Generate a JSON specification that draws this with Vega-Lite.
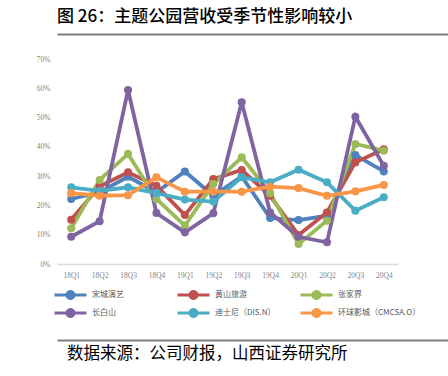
{
  "$schema": "https://vega.github.io/schema/vega-lite/v6.json",
  "padding": {"left": 20, "top": 8, "right": 0, "bottom": 0},
  "background": "white",
  "spacing": 21,
  "resolve": {"legend": {"color": "independent"}, "scale": {"color": "independent", "x": "independent", "y": "independent"}},
  "config": {"font": "Noto Sans CJK SC", "view": {"stroke": null}},
  "vconcat": [
    {
      "width": 428,
      "height": 1,
      "data": {"values": [{"a": 0}]},
      "mark": {"type": "point", "opacity": 0, "size": 0},
      "encoding": {
        "x": {"field": "a", "type": "quantitative", "scale": {"domain": [0, 1]}, "axis": {"domainColor": "#7f7f7f", "domainWidth": 2, "labels": false, "ticks": false, "grid": false, "title": null}}
      },
      "title": {"text": "图 26：主题公园营收受季节性影响较小", "anchor": "start", "font": "Noto Sans CJK SC", "fontSize": 17, "fontWeight": 500, "color": "#000000", "offset": 7}
    },
    {
      "width": 341,
      "height": 205,
      "data": {"values": [
        {"q":"18Q1","s":"宋城演艺","v":0.222},{"q":"18Q2","s":"宋城演艺","v":0.245},{"q":"18Q3","s":"宋城演艺","v":0.298},{"q":"18Q4","s":"宋城演艺","v":0.245},{"q":"19Q1","s":"宋城演艺","v":0.316},{"q":"19Q2","s":"宋城演艺","v":0.233},{"q":"19Q3","s":"宋城演艺","v":0.299},{"q":"19Q4","s":"宋城演艺","v":0.157},{"q":"20Q1","s":"宋城演艺","v":0.150},{"q":"20Q2","s":"宋城演艺","v":0.165},{"q":"20Q3","s":"宋城演艺","v":0.372},{"q":"20Q4","s":"宋城演艺","v":0.316},
        {"q":"18Q1","s":"黄山旅游","v":0.151},{"q":"18Q2","s":"黄山旅游","v":0.265},{"q":"18Q3","s":"黄山旅游","v":0.313},{"q":"18Q4","s":"黄山旅游","v":0.267},{"q":"19Q1","s":"黄山旅游","v":0.167},{"q":"19Q2","s":"黄山旅游","v":0.290},{"q":"19Q3","s":"黄山旅游","v":0.321},{"q":"19Q4","s":"黄山旅游","v":0.233},{"q":"20Q1","s":"黄山旅游","v":0.099},{"q":"20Q2","s":"黄山旅游","v":0.176},{"q":"20Q3","s":"黄山旅游","v":0.347},{"q":"20Q4","s":"黄山旅游","v":0.392},
        {"q":"18Q1","s":"张家界","v":0.122},{"q":"18Q2","s":"张家界","v":0.287},{"q":"18Q3","s":"张家界","v":0.376},{"q":"18Q4","s":"张家界","v":0.222},{"q":"19Q1","s":"张家界","v":0.131},{"q":"19Q2","s":"张家界","v":0.273},{"q":"19Q3","s":"张家界","v":0.364},{"q":"19Q4","s":"张家界","v":0.242},{"q":"20Q1","s":"张家界","v":0.068},{"q":"20Q2","s":"张家界","v":0.148},{"q":"20Q3","s":"张家界","v":0.410},{"q":"20Q4","s":"张家界","v":0.387},
        {"q":"18Q1","s":"长白山","v":0.093},{"q":"18Q2","s":"长白山","v":0.146},{"q":"18Q3","s":"长白山","v":0.594},{"q":"18Q4","s":"长白山","v":0.174},{"q":"19Q1","s":"长白山","v":0.108},{"q":"19Q2","s":"长白山","v":0.173},{"q":"19Q3","s":"长白山","v":0.552},{"q":"19Q4","s":"长白山","v":0.176},{"q":"20Q1","s":"长白山","v":0.093},{"q":"20Q2","s":"长白山","v":0.074},{"q":"20Q3","s":"长白山","v":0.503},{"q":"20Q4","s":"长白山","v":0.335},
        {"q":"18Q1","s":"迪士尼（DIS.N）","v":0.262},{"q":"18Q2","s":"迪士尼（DIS.N）","v":0.250},{"q":"18Q3","s":"迪士尼（DIS.N）","v":0.262},{"q":"18Q4","s":"迪士尼（DIS.N）","v":0.242},{"q":"19Q1","s":"迪士尼（DIS.N）","v":0.220},{"q":"19Q2","s":"迪士尼（DIS.N）","v":0.213},{"q":"19Q3","s":"迪士尼（DIS.N）","v":0.296},{"q":"19Q4","s":"迪士尼（DIS.N）","v":0.279},{"q":"20Q1","s":"迪士尼（DIS.N）","v":0.322},{"q":"20Q2","s":"迪士尼（DIS.N）","v":0.279},{"q":"20Q3","s":"迪士尼（DIS.N）","v":0.182},{"q":"20Q4","s":"迪士尼（DIS.N）","v":0.228},
        {"q":"18Q1","s":"环球影城（CMCSA.O）","v":0.242},{"q":"18Q2","s":"环球影城（CMCSA.O）","v":0.233},{"q":"18Q3","s":"环球影城（CMCSA.O）","v":0.235},{"q":"18Q4","s":"环球影城（CMCSA.O）","v":0.296},{"q":"19Q1","s":"环球影城（CMCSA.O）","v":0.247},{"q":"19Q2","s":"环球影城（CMCSA.O）","v":0.247},{"q":"19Q3","s":"环球影城（CMCSA.O）","v":0.247},{"q":"19Q4","s":"环球影城（CMCSA.O）","v":0.264},{"q":"20Q1","s":"环球影城（CMCSA.O）","v":0.259},{"q":"20Q2","s":"环球影城（CMCSA.O）","v":0.233},{"q":"20Q3","s":"环球影城（CMCSA.O）","v":0.248},{"q":"20Q4","s":"环球影城（CMCSA.O）","v":0.270}
      ]},
      "mark": {"type": "line", "strokeWidth": 3.8, "point": {"filled": true, "size": 65}},
      "encoding": {
        "x": {"field": "q", "type": "ordinal", "sort": null, "title": null,
          "axis": {"labelAngle": 0, "ticks": false, "domainColor": "#d9d9d9", "domainWidth": 1.5, "labelPadding": 7, "labelFont": "Liberation Serif", "labelFontSize": 7.5, "labelColor": "#7f7f7f"}},
        "y": {"field": "v", "type": "quantitative", "title": null, "scale": {"domain": [0, 0.7], "nice": false},
          "axis": {"values": [0, 0.1, 0.2, 0.3, 0.4, 0.5, 0.6, 0.7], "format": ".0%", "grid": false, "domain": false, "ticks": false, "labelPadding": 7, "minExtent": 37, "labelFont": "Liberation Serif", "labelFontSize": 7.5, "labelColor": "#7f7f7f"}},
        "color": {"field": "s", "type": "nominal", "sort": null, "title": null,
          "scale": {"domain": ["宋城演艺", "黄山旅游", "张家界", "长白山", "迪士尼（DIS.N）", "环球影城（CMCSA.O）"], "range": ["#4F81BD", "#C0504D", "#9BBB59", "#8064A2", "#4BACC6", "#F79646"]},
          "legend": {"orient": "none", "legendX": -4, "legendY": 231, "direction": "horizontal", "columns": 3, "gridAlign": "all",
            "symbolType": "M-1,0L1,0M-0.22,0A0.22,0.22 0 1,0 0.22,0A0.22,0.22 0 1,0 -0.22,0",
            "symbolSize": 1024, "symbolStrokeWidth": 3, "clipHeight": 10,
            "labelFont": "Noto Sans CJK SC", "labelFontSize": 8, "labelColor": "#595959", "labelOffset": 4,
            "columnPadding": 1, "rowPadding": 8, "padding": 0,
            "encode": {"symbols": {"update": {"fill": {"scale": "color", "field": "value"}, "stroke": {"scale": "color", "field": "value"}}}}}}
      }
    },
    {
      "width": 428,
      "height": 1,
      "data": {"values": [{"a": 0}]},
      "mark": {"type": "point", "opacity": 0, "size": 0},
      "encoding": {
        "x": {"field": "a", "type": "quantitative", "scale": {"domain": [0, 1]}, "axis": {"domainColor": "#7f7f7f", "domainWidth": 2, "labels": false, "ticks": false, "grid": false, "title": null}}
      },
      "title": {"text": "数据来源：公司财报，山西证券研究所", "orient": "bottom", "anchor": "start", "dx": 10, "font": "Noto Sans CJK SC", "fontSize": 16.5, "fontWeight": "normal", "color": "#000000", "offset": 6}
    }
  ]
}
